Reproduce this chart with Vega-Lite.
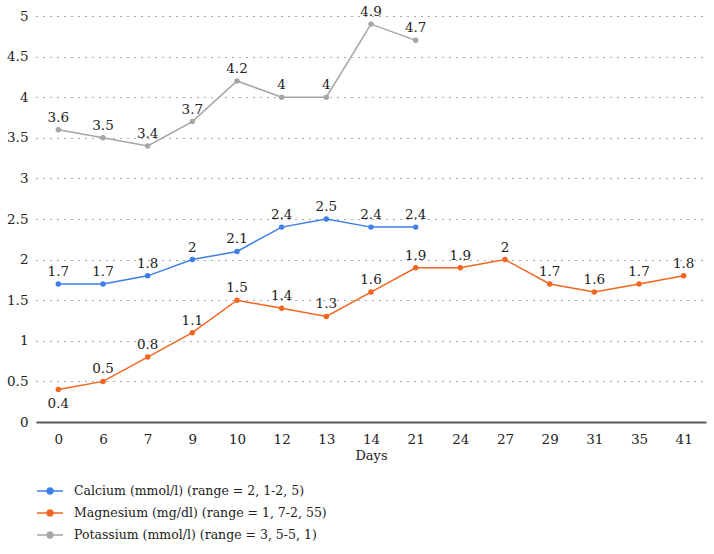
{
  "$schema": "https://vega.github.io/schema/vega-lite/v6.json",
  "width": 670,
  "height": 406,
  "autosize": "none",
  "padding": {"left": 36, "top": 16, "right": 8, "bottom": 132},
  "background": "white",
  "config": {
    "font": "DejaVu Serif",
    "view": {"stroke": null},
    "axis": {"labelFont": "DejaVu Serif", "titleFont": "DejaVu Serif"},
    "legend": {"labelFont": "DejaVu Serif"},
    "text": {"font": "DejaVu Serif"}
  },
  "data": {
    "values": [
      {"series": "Calcium (mmol/l) (range = 2, 1-2, 5)", "day": "0", "value": 1.7},
      {"series": "Calcium (mmol/l) (range = 2, 1-2, 5)", "day": "6", "value": 1.7},
      {"series": "Calcium (mmol/l) (range = 2, 1-2, 5)", "day": "7", "value": 1.8},
      {"series": "Calcium (mmol/l) (range = 2, 1-2, 5)", "day": "9", "value": 2},
      {"series": "Calcium (mmol/l) (range = 2, 1-2, 5)", "day": "10", "value": 2.1},
      {"series": "Calcium (mmol/l) (range = 2, 1-2, 5)", "day": "12", "value": 2.4},
      {"series": "Calcium (mmol/l) (range = 2, 1-2, 5)", "day": "13", "value": 2.5},
      {"series": "Calcium (mmol/l) (range = 2, 1-2, 5)", "day": "14", "value": 2.4},
      {"series": "Calcium (mmol/l) (range = 2, 1-2, 5)", "day": "21", "value": 2.4},
      {"series": "Magnesium (mg/dl) (range = 1, 7-2, 55)", "day": "0", "value": 0.4},
      {"series": "Magnesium (mg/dl) (range = 1, 7-2, 55)", "day": "6", "value": 0.5},
      {"series": "Magnesium (mg/dl) (range = 1, 7-2, 55)", "day": "7", "value": 0.8},
      {"series": "Magnesium (mg/dl) (range = 1, 7-2, 55)", "day": "9", "value": 1.1},
      {"series": "Magnesium (mg/dl) (range = 1, 7-2, 55)", "day": "10", "value": 1.5},
      {"series": "Magnesium (mg/dl) (range = 1, 7-2, 55)", "day": "12", "value": 1.4},
      {"series": "Magnesium (mg/dl) (range = 1, 7-2, 55)", "day": "13", "value": 1.3},
      {"series": "Magnesium (mg/dl) (range = 1, 7-2, 55)", "day": "14", "value": 1.6},
      {"series": "Magnesium (mg/dl) (range = 1, 7-2, 55)", "day": "21", "value": 1.9},
      {"series": "Magnesium (mg/dl) (range = 1, 7-2, 55)", "day": "24", "value": 1.9},
      {"series": "Magnesium (mg/dl) (range = 1, 7-2, 55)", "day": "27", "value": 2},
      {"series": "Magnesium (mg/dl) (range = 1, 7-2, 55)", "day": "29", "value": 1.7},
      {"series": "Magnesium (mg/dl) (range = 1, 7-2, 55)", "day": "31", "value": 1.6},
      {"series": "Magnesium (mg/dl) (range = 1, 7-2, 55)", "day": "35", "value": 1.7},
      {"series": "Magnesium (mg/dl) (range = 1, 7-2, 55)", "day": "41", "value": 1.8},
      {"series": "Potassium (mmol/l) (range = 3, 5-5, 1)", "day": "0", "value": 3.6},
      {"series": "Potassium (mmol/l) (range = 3, 5-5, 1)", "day": "6", "value": 3.5},
      {"series": "Potassium (mmol/l) (range = 3, 5-5, 1)", "day": "7", "value": 3.4},
      {"series": "Potassium (mmol/l) (range = 3, 5-5, 1)", "day": "9", "value": 3.7},
      {"series": "Potassium (mmol/l) (range = 3, 5-5, 1)", "day": "10", "value": 4.2},
      {"series": "Potassium (mmol/l) (range = 3, 5-5, 1)", "day": "12", "value": 4},
      {"series": "Potassium (mmol/l) (range = 3, 5-5, 1)", "day": "13", "value": 4},
      {"series": "Potassium (mmol/l) (range = 3, 5-5, 1)", "day": "14", "value": 4.9},
      {"series": "Potassium (mmol/l) (range = 3, 5-5, 1)", "day": "21", "value": 4.7}
    ]
  },
  "encoding": {
    "x": {
      "field": "day",
      "type": "ordinal",
      "sort": null,
      "scale": {"type": "point", "padding": 0.5},
      "axis": {
        "title": "Days",
        "titleFontSize": 13,
        "titleFontWeight": "normal",
        "titleColor": "#222222",
        "titlePadding": 4,
        "labelAngle": 0,
        "labelFontSize": 13.5,
        "labelColor": "#222222",
        "labelPadding": 10,
        "ticks": false,
        "domainColor": "#5a5a5a",
        "domainWidth": 2,
        "grid": false
      }
    },
    "y": {
      "field": "value",
      "type": "quantitative",
      "scale": {"domain": [0, 5]},
      "axis": {
        "title": null,
        "values": [0, 0.5, 1, 1.5, 2, 2.5, 3, 3.5, 4, 4.5, 5],
        "format": "~g",
        "labelFontSize": 13.5,
        "labelColor": "#222222",
        "labelPadding": 8,
        "ticks": false,
        "domain": false,
        "grid": true,
        "gridColor": "#555555",
        "gridDash": [1, 6],
        "gridWidth": 1
      }
    },
    "color": {
      "field": "series",
      "type": "nominal",
      "scale": {"range": ["#3d7fe6", "#f2661f", "#a6a6a6"]},
      "legend": {
        "title": null,
        "orient": "none",
        "legendX": 0,
        "legendY": 461,
        "direction": "vertical",
        "labelFontSize": 12.5,
        "labelColor": "#222222",
        "labelLimit": 0,
        "rowPadding": 1,
        "symbolType": "M-1,0H1M-0.23,0A0.23,0.23,0,1,0,0.23,0A0.23,0.23,0,1,0,-0.23,0Z",
        "symbolSize": 676,
        "symbolStrokeWidth": 1.5,
        "labelOffset": 10
      }
    }
  },
  "layer": [
    {"mark": {"type": "line", "strokeWidth": 1.5}},
    {"mark": {"type": "point", "filled": true, "size": 30, "opacity": 1}},
    {
      "transform": [{"filter": "!(datum.day == '0' && datum.value == 0.4)"}],
      "mark": {"type": "text", "dy": -12, "fontSize": 13.5},
      "encoding": {"text": {"field": "value", "type": "quantitative"}, "color": {"value": "#222222"}}
    },
    {
      "transform": [{"filter": "datum.day == '0' && datum.value == 0.4"}],
      "mark": {"type": "text", "dy": 14, "fontSize": 13.5},
      "encoding": {"text": {"field": "value", "type": "quantitative"}, "color": {"value": "#222222"}}
    }
  ]
}
